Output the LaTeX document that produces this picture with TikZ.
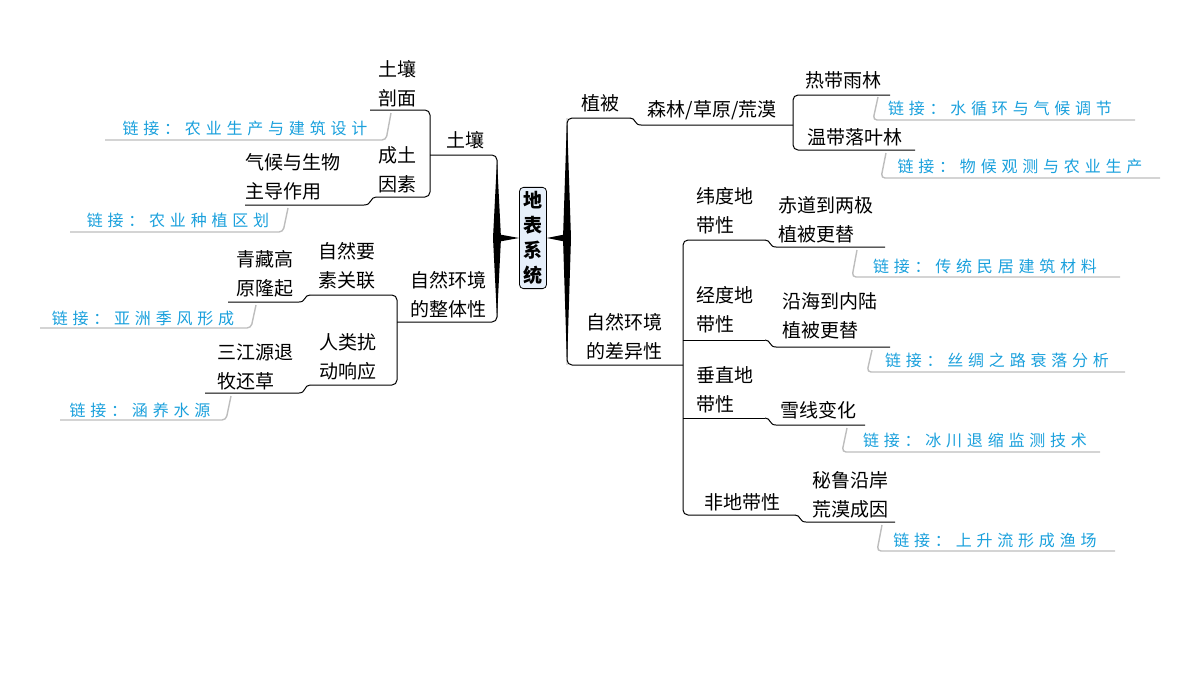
\documentclass[tikz,border=0pt]{standalone}
\usepackage{fontspec}
\setmainfont{Noto Sans CJK SC}
\newfontfamily\linkfont[LetterSpace=30]{Noto Sans CJK SC}
\definecolor{linkblue}{HTML}{1AA0DC}
\definecolor{linkgrey}{HTML}{BDBDBD}
\definecolor{rootfill}{HTML}{E6EFFA}
\tikzset{
    topic/.style = {inner sep=0pt, align=left, font=\fontsize{19}{29}\selectfont},
    linktext/.style = {inner sep=0pt, text=linkblue, font=\linkfont\fontsize{16}{20}\selectfont},
    branch/.style = {line width=1pt, rounded corners=5pt},
    linkline/.style = {linkgrey, line width=1.4pt, rounded corners=4pt}}
\begin{document}
\begin{tikzpicture}[x=1pt, y=-1pt]
\useasboundingbox (0,0) rectangle (1200,675);

% centre
\node[draw, rounded corners=4pt, fill=rootfill, line width=0.8pt, inner sep=4pt,
      align=center, font=\fontsize{19}{25}\bfseries\selectfont] (root) at (533,238) {地\\表\\系\\统};
\fill (497,160) -- (501,238) -- (497,318) -- (493,238) -- cycle;
\fill (497,234) -- (root.west) -- (497,242) -- cycle;
\fill (567,118) -- (571,238) -- (567,365) -- (563,238) -- cycle;
\fill (567,234) -- (root.east) -- (567,242) -- cycle;

% left: soil
\node[topic] (soil) at (465,140) {土壤};
\node[topic] (profile) at (397,84) {土壤\\剖面};
\node[topic] (factor) at (397,170) {成土\\因素};
\node[topic] (climate) at (293,177) {气候与生物\\主导作用};
\draw[branch] (497,238) -- (497,155) -- (430,155);
\draw[branch] (370,110) -- (430,110) -- (430,197) -- (376,197);
\draw[line width=1pt] (376,197) .. controls (370,197) and (372,205) .. (364,205) -- (245,205);
\node[linktext] (l1) at (245,128) {链接：农业生产与建筑设计};
\draw[linkline] (391,113) -- (386,140) -- (105,140);
\node[linktext] (l2) at (178,220) {链接：农业种植区划};
\draw[linkline] (288,208) -- (283,232) -- (70,232);

% left: integrity
\node[topic] (whole) at (448,295) {自然环境\\的整体性};
\node[topic] (link) at (347,266) {自然要\\素关联};
\node[topic] (tibet) at (265,274) {青藏高\\原隆起};
\node[topic] (human) at (348,357) {人类扰\\动响应};
\node[topic] (sanjiang) at (255,367) {三江源退\\牧还草};
\draw[branch] (497,238) -- (497,322) -- (397,322);
\draw[branch] (310,295) -- (397,295) -- (397,385) -- (310,385);
\draw[line width=1pt] (310,295) .. controls (304,295) and (306,302) .. (299,302) -- (228,302);
\draw[line width=1pt] (310,385) .. controls (304,385) and (306,393) .. (299,393) -- (205,393);
\node[linktext] (l3) at (143,318) {链接：亚洲季风形成};
\draw[linkline] (256,305) -- (251,328) -- (40,328);
\node[linktext] (l4) at (140,410) {链接：涵养水源};
\draw[linkline] (231,396) -- (226,420) -- (60,420);

% right: vegetation
\node[topic] (veg) at (600,103) {植被};
\node[topic] (forest) at (712,110) {森林/草原/荒漠};
\node[topic] (rain) at (843,80) {热带雨林};
\node[topic] (temp) at (855,137) {温带落叶林};
\draw[branch] (567,238) -- (567,118) -- (630,118);
\draw[line width=1pt] (630,118) .. controls (636,118) and (634,125) .. (641,125) -- (793,125);
\draw[branch] (890,95) -- (793,95) -- (793,150) -- (915,150);
\node[linktext] (l5) at (1000,108) {链接：水循环与气候调节};
\draw[linkline] (878,97) -- (873,120) -- (1135,120);
\node[linktext] (l6) at (1020,166) {链接：物候观测与农业生产};
\draw[linkline] (886,153) -- (881,178) -- (1160,178);

% right: difference
\node[topic] (diff) at (624,337) {自然环境\\的差异性};
\draw[branch] (567,238) -- (567,365) -- (683,365);
\draw[branch] (765,240) -- (683,240) -- (683,515) -- (795,515);
\draw[line width=1pt] (683,340) -- (765,340);
\draw[line width=1pt] (683,418) -- (765,418);

\node[topic] (lat) at (725,211) {纬度地\\带性};
\node[topic] (latc) at (826,220) {赤道到两极\\植被更替};
\draw[line width=1pt] (765,240) .. controls (771,240) and (769,247) .. (776,247) -- (885,247);
\node[linktext] (l7) at (985,266) {链接：传统民居建筑材料};
\draw[linkline] (857,250) -- (852,277) -- (1120,277);

\node[topic] (lon) at (725,310) {经度地\\带性};
\node[topic] (lonc) at (830,316) {沿海到内陆\\植被更替};
\draw[line width=1pt] (765,340) .. controls (771,340) and (769,347) .. (776,347) -- (890,347);
\node[linktext] (l8) at (997,360) {链接：丝绸之路衰落分析};
\draw[linkline] (872,350) -- (867,372) -- (1125,372);

\node[topic] (vert) at (725,390) {垂直地\\带性};
\node[topic] (vertc) at (818,410) {雪线变化};
\draw[line width=1pt] (765,418) .. controls (771,418) and (769,425) .. (776,425) -- (865,425);
\node[linktext] (l9) at (975,440) {链接：冰川退缩监测技术};
\draw[linkline] (847,428) -- (842,452) -- (1100,452);

\node[topic] (azonal) at (742,502) {非地带性};
\node[topic] (peru) at (850,495) {秘鲁沿岸\\荒漠成因};
\draw[line width=1pt] (795,515) .. controls (801,515) and (799,522) .. (806,522) -- (895,522);
\node[linktext] (l10) at (995,540) {链接：上升流形成渔场};
\draw[linkline] (882,525) -- (877,551) -- (1115,551);
\end{tikzpicture}
\end{document}
